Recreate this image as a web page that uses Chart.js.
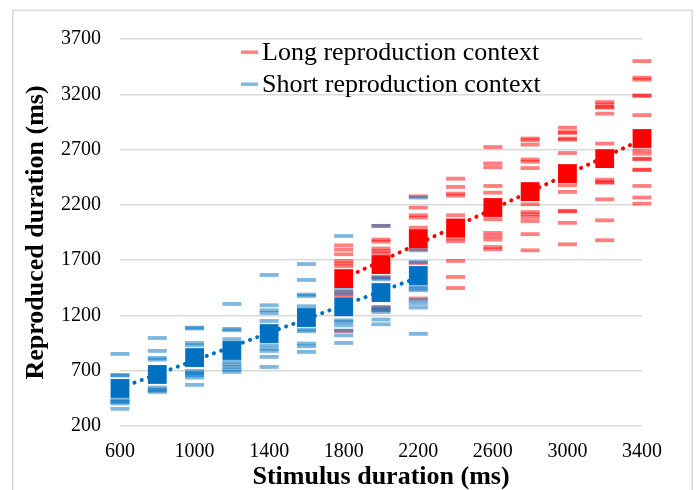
<!DOCTYPE html>
<html lang="en">
<head>
  <meta charset="UTF-8">
  <title>Reproduced duration</title>
  <script src="https://cdn.jsdelivr.net/npm/chart.js"></script>
  <style>
    body { margin: 0; background: #fff; }
    canvas { display: block; }
  </style>
</head>
<body>
  <canvas id="grafico" width="696" height="490"></canvas>

  <script>
    // stimulus durations (ms) for each context
    const shortStimulus = [600, 800, 1000, 1200, 1400, 1600, 1800, 2000, 2200];
    const longStimulus = [1800, 2000, 2200, 2400, 2600, 2800, 3000, 3200, 3400];

    // individual reproductions (dashes), one list per stimulus duration
    const shortTrials = [
      [852, 662, 655, 442, 424, 418, 403, 355],
      [996, 879, 816, 800, 548, 530, 520, 508],
      [1090, 1082, 951, 930, 698, 680, 672, 659, 638, 572],
      [1304, 1078, 1066, 985, 780, 756, 734, 711, 689],
      [1566, 1292, 1247, 1222, 1150, 930, 900, 879, 825, 734],
      [1665, 1521, 1389, 1376, 1283, 1072, 1057, 946, 921, 870],
      [1918, 1430, 1395, 1156, 1140, 1110, 1063, 1020, 951],
      [2010, 1548, 1527, 1268, 1253, 1231, 1163, 1120],
      [2266, 1789, 1683, 1464, 1443, 1428, 1337, 1307, 1271, 1033]
    ];
    const longTrials = [
      [1834, 1795, 1753, 1692, 1669, 1645, 1412, 1380, 1060],
      [2010, 1886, 1868, 1805, 1783, 1762, 1540, 1277, 1247],
      [2277, 2175, 2106, 2085, 1994, 1798, 1674, 1353],
      [2437, 2362, 2302, 2284, 2106, 1895, 1871, 1693, 1548, 1448],
      [2723, 2575, 2540, 2371, 2310, 2070, 1946, 1916, 1886, 1819, 1798],
      [2800, 2785, 2745, 2610, 2590, 2533, 2205, 2135, 2115, 2090, 2054, 1935, 1789],
      [2898, 2859, 2850, 2800, 2790, 2669, 2377, 2317, 2146, 2140, 2037, 1843],
      [3130, 3109, 3085, 3080, 3025, 2754, 2428, 2407, 2400, 2250, 2060, 1880],
      [3500, 3350, 3332, 3190, 3185, 3012, 2693, 2663, 2618, 2612, 2519, 2515, 2371, 2266, 2211]
    ];

    // means (big squares)
    const shortMeans = [540, 666, 819, 883, 1036, 1181, 1278, 1407, 1561];
    const longMeans = [1533, 1660, 1894, 1991, 2176, 2320, 2483, 2618, 2800];

    // linear trendlines (end points)
    const shortTrendX = [600, 2200];
    const shortTrendY = [543, 1543];
    const longTrendX = [1800, 3400];
    const longTrendY = [1534, 2790];

    // axis ticks
    const xTickValues = [600, 1000, 1400, 1800, 2200, 2600, 3000, 3400];
    const yTickValues = [200, 700, 1200, 1700, 2200, 2700, 3200, 3700];

    const legendLabels = ['Long reproduction context', 'Short reproduction context'];

    const AZUL = '#0070C0';
    const VERMELHO = '#FF0000';
    const AZUL_CLARO = 'rgba(0,112,192,0.5)';
    const VERMELHO_CLARO = 'rgba(255,0,0,0.5)';
    const SERIF = '"Liberation Serif", "Times New Roman", serif';

    const pontos = (xs, lists) => lists.flatMap((vals, i) => vals.map(v => ({ x: xs[i], y: v })));
    const pares = (xs, ys) => xs.map((x, i) => ({ x, y: ys[i] }));

    const dashStyle = cor => ({
      pointStyle: 'line', pointRadius: 9.5, pointHoverRadius: 9.5,
      pointBorderWidth: 3.8, pointBorderColor: cor, pointBackgroundColor: cor,
      borderColor: cor, backgroundColor: cor, clip: false
    });
    const meanStyle = cor => ({
      pointStyle: 'rect', pointRadius: 13.3, pointHoverRadius: 13.3,
      pointBorderWidth: 0, pointBackgroundColor: cor, pointBorderColor: cor,
      borderColor: cor, backgroundColor: cor, clip: false
    });
    const trendStyle = cor => ({
      showLine: true, pointRadius: 0, borderColor: cor, borderWidth: 4,
      borderDash: [0.1, 7.6], borderCapStyle: 'round', clip: false
    });

    // draws the frame around the chart and a legend inside the plot
    const molduraPlugin = {
      id: 'moldura',
      beforeDraw(chart) {
        const ctx = chart.ctx;
        ctx.save();
        ctx.fillStyle = '#fff';
        ctx.fillRect(0, 0, chart.width, chart.height);
        ctx.strokeStyle = '#d9d9d9';
        ctx.lineWidth = 1.5;
        ctx.strokeRect(12.75, 10.25, 679.5, 490);
        ctx.restore();
      },
      afterDraw(chart) {
        const ctx = chart.ctx;
        const itens = chart.data.datasets.filter(d => d.legendIndex !== undefined)
          .sort((a, b) => a.legendIndex - b.legendIndex);
        ctx.save();
        ctx.font = '26px ' + SERIF;
        ctx.textBaseline = 'alphabetic';
        itens.forEach((d, i) => {
          const base = 59.5 + i * 32;
          ctx.fillStyle = d.pointBorderColor;
          ctx.fillRect(241, base - 9, 17, 3.4);
          ctx.fillStyle = '#000';
          ctx.fillText(legendLabels[d.legendIndex], 262, base);
        });
        ctx.restore();
      }
    };

    const ctx = document.getElementById('grafico').getContext('2d');
    const chart = new Chart(ctx, {
      type: 'scatter',
      data: {
        datasets: [
          { data: pares(shortStimulus, shortMeans), ...meanStyle(AZUL) },
          { data: pares(longStimulus, longMeans), ...meanStyle(VERMELHO) },
          { data: pares(shortTrendX, shortTrendY), ...trendStyle(AZUL) },
          { data: pares(longTrendX, longTrendY), ...trendStyle(VERMELHO) },
          { data: pontos(shortStimulus, shortTrials), legendIndex: 1, ...dashStyle(AZUL_CLARO) },
          { data: pontos(longStimulus, longTrials), legendIndex: 0, ...dashStyle(VERMELHO_CLARO) }
        ]
      },
      options: {
        responsive: false,
        animation: false,
        devicePixelRatio: 1,
        layout: { padding: { top: 39, right: 54, left: 0, bottom: 0 } },
        plugins: {
          legend: { display: false },
          tooltip: { enabled: false }
        },
        scales: {
          x: {
            type: 'linear',
            min: 600,
            max: 3400,
            afterBuildTicks: s => { s.ticks = xTickValues.map(v => ({ value: v })); },
            afterFit: s => { s.height = 64; },
            grid: { display: false, drawTicks: false },
            border: { display: false },
            ticks: {
              color: '#000', padding: 14, maxRotation: 0,
              font: { family: SERIF, size: 20 },
              callback: v => String(v)
            },
            title: {
              display: true, text: 'Stimulus duration (ms)', color: '#000',
              font: { family: SERIF, size: 26, weight: 'bold', lineHeight: 1 },
              padding: { top: 0, bottom: 0 }
            }
          },
          y: {
            min: 200,
            max: 3700,
            afterBuildTicks: s => { s.ticks = yTickValues.map(v => ({ value: v })); },
            afterFit: s => { s.width = 120; },
            grid: { color: '#d9d9d9', lineWidth: 1.5, drawTicks: false },
            border: { display: false },
            ticks: {
              color: '#000', padding: 19,
              font: { family: SERIF, size: 20 },
              callback: v => String(v)
            },
            title: {
              display: true, text: 'Reproduced duration (ms)', color: '#000',
              font: { family: SERIF, size: 26, weight: 'bold', lineHeight: 1.2 },
              padding: { top: 21, bottom: 0 }
            }
          }
        }
      },
      plugins: [molduraPlugin]
    });
  </script>
</body>
</html>
